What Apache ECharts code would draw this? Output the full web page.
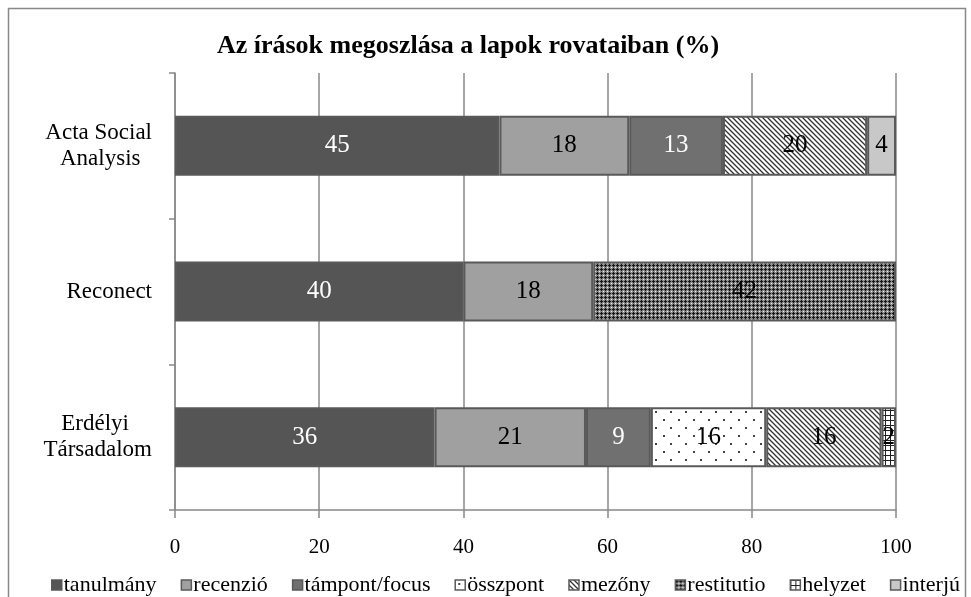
<!DOCTYPE html>
<html>
<head>
<meta charset="utf-8">
<script src="https://cdn.jsdelivr.net/npm/echarts@6/dist/echarts.min.js"></script>
<style>html,body{margin:0;padding:0;background:#fff}#c{width:971px;height:597px}</style>
</head>
<body>
<div id="c"></div>
<script>
const categories = ['Acta Social\nAnalysis', 'Reconect', 'Erdélyi\nTársadalom'];
const seriesNames = ['tanulmány','recenzió','támpont/focus','összpont','mezőny','restitutio','helyzet','interjú'];
const tanulmany = [45, 40, 36];
const recenzio = [18, 18, 21];
const tampont = [13, null, 9];
const osszpont = [null, null, 16];
const mezony = [20, null, 16];
const restitutio = [null, 42, null];
const helyzet = [null, null, 2];
const interju = [4, null, null];
const xTicks = [0, 20, 40, 60, 80, 100];
const values = [tanulmany, recenzio, tampont, osszpont, mezony, restitutio, helyzet, interju];

const SERIF = 'Liberation Serif';
const CAT_FONT = 23;
// center shorter lines of a multi-line category label under the longest one
const mctx = document.createElement('canvas').getContext('2d');
mctx.font = CAT_FONT + 'px "Liberation Serif"';
const spaceW = mctx.measureText('\u00a0').width || CAT_FONT * 0.25;
function centerLines(v) {
  const lines = v.split('\n');
  const ws = lines.map(l => mctx.measureText(l).width);
  const m = Math.max(...ws);
  return lines.map((l, i) => l + '\u00a0'.repeat(Math.round((m - ws[i]) / 2 / spaceW))).join('\n');
}
const catFont = { fontFamily: SERIF, fontSize: CAT_FONT, fontWeight: 'normal', fontStyle: 'normal', color: '#000', lineHeight: 26, align: 'right' };

function pat(w, h, draw) {
  const c = document.createElement('canvas');
  c.width = w; c.height = h;
  const g = c.getContext('2d');
  draw(g, w, h);
  return { image: c, repeat: 'repeat' };
}
const dots = pat(15, 16, (g) => {
  g.fillStyle = '#fff'; g.fillRect(0, 0, 15, 16);
  g.fillStyle = '#444';
  g.fillRect(3, 3, 2, 2); g.fillRect(10, 11, 2, 2);
});
const hatch = pat(5, 5, (g) => {
  g.fillStyle = '#fff'; g.fillRect(0, 0, 5, 5);
  g.strokeStyle = '#333'; g.lineWidth = 1.3;
  g.beginPath();
  g.moveTo(-1, -1); g.lineTo(6, 6);
  g.moveTo(-4, 1); g.lineTo(4, 9);
  g.moveTo(1, -4); g.lineTo(9, 4);
  g.stroke();
});
const cross = pat(4, 4, (g) => {
  g.fillStyle = '#8a8a8a'; g.fillRect(0, 0, 4, 4);
  g.fillStyle = '#151515';
  g.fillRect(0, 1, 3, 1); g.fillRect(1, 0, 1, 3);
  g.fillStyle = '#f0f0f0';
  g.fillRect(3, 3, 1, 1);
});
const grid = pat(5, 5, (g) => {
  g.fillStyle = '#fff'; g.fillRect(0, 0, 5, 5);
  g.fillStyle = '#222';
  g.fillRect(0, 0, 5, 1); g.fillRect(0, 0, 1, 5);
});
const colors = ['#555555', '#a0a0a0', '#707070', dots, hatch, cross, grid, '#c8c8c8'];
const labelColors = ['#fff', '#000', '#fff', '#000', '#000', '#000', '#000', '#000'];

const series = seriesNames.map((n, i) => ({
  name: n,
  type: 'bar',
  stack: 'total',
  barWidth: 60,
  data: values[i],
  itemStyle: { color: colors[i], borderColor: '#595959', borderWidth: 2 },
  label: {
    show: true, position: 'inside', color: labelColors[i],
    fontFamily: SERIF, fontSize: 25,
    formatter: p => (p.value == null ? '' : p.value)
  },
  emphasis: { disabled: true }
}));

const chart = echarts.init(document.getElementById('c'), null, { renderer: 'canvas' });
chart.setOption({
  animation: false,
  backgroundColor: '#fff',
  textStyle: { fontFamily: SERIF },
  title: {
    text: 'Az írások megoszlása a lapok rovataiban (%)',
    left: 463, top: 28, textAlign: 'center',
    textStyle: { fontFamily: SERIF, fontWeight: 'bold', fontSize: 26, color: '#000' }
  },
  graphic: [{
    type: 'rect', shape: { x: 8.5, y: 8.5, width: 957, height: 620 },
    style: { fill: 'none', stroke: '#888', lineWidth: 1.5 }, silent: true
  }],
  legend: {
    top: 569, left: 46,
    itemWidth: 10, itemHeight: 10, itemGap: 24,
    icon: 'rect',
    textStyle: { fontFamily: SERIF, fontSize: 22, color: '#000', padding: [0, 0, 0, -3] },
    itemStyle: { borderColor: '#595959', borderWidth: 1.5 },
    data: seriesNames
  },
  grid: { left: 175, right: 75, top: 73, bottom: 87, containLabel: false },
  xAxis: {
    type: 'value', min: 0, max: 100, interval: 20,
    axisLine: { show: true, lineStyle: { color: '#888', width: 1.5 } },
    axisTick: { show: true, length: 8, lineStyle: { color: '#888', width: 1.5 } },
    splitLine: { show: true, lineStyle: { color: '#888', width: 1.5 } },
    axisLabel: {
      margin: 27, fontFamily: SERIF, fontSize: 21, color: '#000',
      formatter: v => (xTicks.includes(v) ? String(v) : '')
    }
  },
  yAxis: {
    type: 'category', inverse: true,
    data: categories.map(c => ({ value: centerLines(c), textStyle: catFont })),
    axisLine: { show: true, lineStyle: { color: '#888', width: 1.5 } },
    axisTick: { show: true, length: 6, lineStyle: { color: '#888', width: 1.5 } },
    axisLabel: {
      margin: 23, align: 'right', color: '#000',
      fontFamily: SERIF, fontSize: CAT_FONT, lineHeight: 26
    }
  },
  series: series
});
</script>
</body>
</html>
